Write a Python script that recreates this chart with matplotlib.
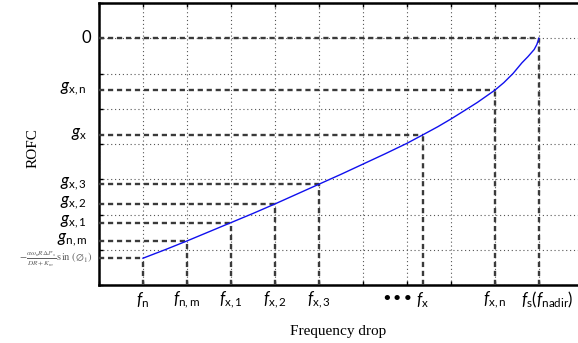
import matplotlib
matplotlib.use("Agg")
import matplotlib.pyplot as plt
from matplotlib.transforms import blended_transform_factory

# ---- data ----
curve_x = [1.0, 1.5, 2.0, 2.5, 3.0, 3.5, 4.0, 4.5, 5.0, 5.5, 6.0, 6.5, 7.0, 7.36, 7.7, 8.0,
           8.27, 8.6, 9.0, 9.2, 9.41, 9.61, 9.75, 9.89, 9.95, 10.0]
curve_y = [0.76, 1.0, 1.25, 1.51, 1.77, 2.03, 2.30, 2.58, 2.86, 3.14, 3.43, 3.72, 4.02, 4.26,
           4.49, 4.71, 4.92, 5.18, 5.53, 5.74, 6.0, 6.3, 6.48, 6.68, 6.82, 7.0]

marker_x = [1.0, 2.0, 3.0, 4.0, 5.0, 7.36, 9.0, 10.0]
marker_y = [0.76, 1.25, 1.77, 2.30, 2.86, 4.26, 5.53, 7.0]

x_labels = [r'$f_{\mathrm{n}}$', r'$f_{\mathrm{n,m}}$', r'$f_{\mathrm{x,1}}$', r'$f_{\mathrm{x,2}}$',
            r'$f_{\mathrm{x,3}}$', r'$f_{\mathrm{x}}$', r'$f_{\mathrm{x,n}}$',
            r'$f_{\mathrm{s}}(f_{\mathrm{nadir}})$']
y_labels = [None, r'$g_{\mathrm{n,m}}$', r'$g_{\mathrm{x,1}}$', r'$g_{\mathrm{x,2}}$',
            r'$g_{\mathrm{x,3}}$', r'$g_{\mathrm{x}}$', r'$g_{\mathrm{x,n}}$', '0']
formula_label = r'$-\frac{\alpha\omega_n R\Delta P_s}{DR+K_m}\,\sin\,(\emptyset_1)$'
dots_x = 6.77

plt.rcParams['mathtext.fontset'] = 'custom'
plt.rcParams['mathtext.rm'] = 'Lato'
plt.rcParams['mathtext.it'] = 'Lato:italic'
plt.rcParams['mathtext.bf'] = 'Lato:bold'
plt.rcParams['font.family'] = ['Lato', 'DejaVu Sans']

fig = plt.figure(figsize=(5.78, 3.43), dpi=100)
ax = fig.add_axes([99/578, 1 - 285/343, 484/578, 282/343])
ax.set_xlim(0, 11)
ax.set_ylim(0, 8)

ax.set_xticks(range(0, 12))
ax.set_yticks(range(0, 9))
ax.set_xticklabels([])
ax.set_yticklabels([])
ax.tick_params(direction='in', length=3, width=1, top=True, right=False, color='black')
ax.grid(True, linestyle=(0, (1, 2.5)), color='#555555', linewidth=0.8)
ax.set_axisbelow(True)

for s in ['left', 'bottom', 'top']:
    ax.spines[s].set_linewidth(1.8)
ax.spines['right'].set_visible(False)

dash = (0, (2.2, 1.6))
dcol = '#3a3a3a'
for mx, my in zip(marker_x, marker_y):
    ax.plot([0, mx], [my, my], color=dcol, lw=1.7, linestyle=dash, zorder=3)
    ax.plot([mx, mx], [0, my], color=dcol, lw=1.7, linestyle=dash, zorder=3)

ax.plot(curve_x, curve_y, color='#1010ee', lw=1.0, zorder=4)

# x labels
tx = blended_transform_factory(ax.transData, fig.transFigure)
for mx, lab in zip(marker_x, x_labels):
    if lab.startswith(r'$f_{\mathrm{s}}'):
        ax.text(mx - 0.42, 1 - 300/343, lab, transform=tx, ha='left', va='center', fontsize=12)
    else:
        ax.text(mx, 1 - 300/343, lab, transform=tx, ha='center', va='center', fontsize=12)
ax.text(dots_x, 1 - 299/343, '\u2022\u2022\u2022', transform=tx, ha='center', va='center',
        fontsize=13, family='DejaVu Sans')

# y labels
ty = blended_transform_factory(fig.transFigure, ax.transData)
for my, lab in zip(marker_y, y_labels):
    if lab is None:
        ax.text(92/578, my - 0.03, formula_label, transform=ty, ha='right', va='center',
                fontsize=7.5, color='#606060', math_fontfamily='stix')
    elif lab == '0':
        ax.text(91/578, my, lab, transform=ty, ha='right', va='center', fontsize=12)
    else:
        ax.text(87/578, my + 0.03, lab, transform=ty, ha='right', va='center', fontsize=12)

fig.text(33/578, 1 - 148/343, 'ROFC', rotation=90, ha='center', va='center',
         family='Liberation Serif', fontsize=11)
fig.text(338/578, 1 - 332/343, 'Frequency drop', ha='center', va='center',
         family='Liberation Serif', fontsize=11)

fig.savefig('out.png', dpi=100)
